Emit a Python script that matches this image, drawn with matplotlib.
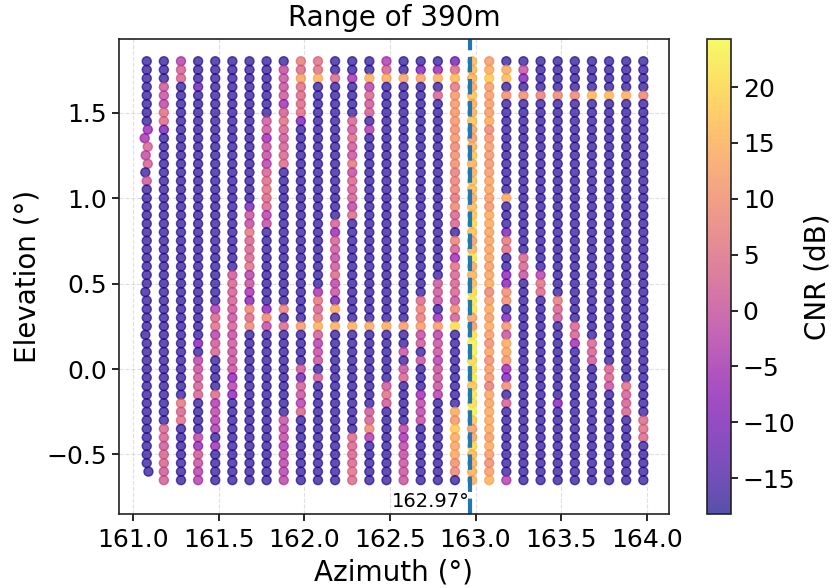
import numpy as np
import matplotlib
matplotlib.use('Agg')
import matplotlib.pyplot as plt

# scan grid: azimuth columns and elevation rows (top row first)
azimuth = [161.08, 161.18, 161.28, 161.38, 161.48, 161.58, 161.68, 161.78, 161.88, 161.98,
           162.08, 162.18, 162.28, 162.38, 162.48, 162.58, 162.68, 162.78, 162.88, 162.98,
           163.08, 163.18, 163.28, 163.38, 163.48, 163.58, 163.68, 163.78, 163.88, 163.98]
elevation = [1.80, 1.75, 1.70, 1.65, 1.60, 1.55, 1.50, 1.45, 1.40, 1.35,
             1.30, 1.25, 1.20, 1.15, 1.10, 1.05, 1.00, 0.95, 0.90, 0.85,
             0.80, 0.75, 0.70, 0.65, 0.60, 0.55, 0.50, 0.45, 0.40, 0.35,
             0.30, 0.25, 0.20, 0.15, 0.10, 0.05, 0.00, -0.05, -0.10, -0.15,
             -0.20, -0.25, -0.30, -0.35, -0.40, -0.45, -0.50, -0.55, -0.60, -0.65]

# most cells sit at the noise floor, only the returns above it are listed
noise_floor = -17
first_col_rows = 49  # first column stops one row early
# the first column wanders a bit in azimuth (row: offset in degrees)
first_col_shift = {8: 0.006, 9: -0.012, 10: 0.006, 11: -0.006, 12: 0.006, 13: -0.008,
                   27: -0.008, 32: -0.008, 48: 0.01}

returns = {
    0: {8: -6, 9: -5, 10: 3, 11: -1, 12: 2, 14: 1},
    1: {3: 1, 4: 0, 5: -2, 6: 5, 7: 4, 8: -11, 43: 3, 44: 3, 45: 1, 46: 3, 47: 3, 48: 1, 49: 2},
    2: {0: -3, 1: 2, 2: 3, 40: 6, 41: 3, 42: 5},
    3: {3: -13, 33: -9, 35: -2, 36: 0, 37: 1, 38: 2, 39: 3, 44: -2, 45: -7, 46: 1, 47: 0, 48: -3, 49: -3},
    4: {29: -4, 30: 3, 31: 5, 32: -3, 33: 1, 34: 3, 39: 4, 40: -4, 41: -2, 42: -3, 43: -4, 45: -6},
    5: {25: 1, 26: 3, 27: 2, 28: 2, 29: 1, 30: 0, 31: 2, 32: -1, 33: 1, 34: 0, 35: 0, 36: 0, 37: -8, 38: -3, 39: -8},
    6: {17: -11, 18: 0, 19: -1, 20: 6, 21: 3, 22: 3, 23: 3, 24: 5, 25: -3, 26: 0, 27: -5, 28: -9, 29: 9, 30: 4, 31: 9},
    7: {7: 1, 8: 1, 9: -6, 10: 0, 11: -1, 12: -3, 13: 2, 14: 4, 15: 5, 16: 4, 17: 3, 18: -3, 19: -1,
        29: -9, 30: 9, 31: -1},
    8: {1: -1, 2: 0, 3: 0, 4: 1, 5: -6, 6: 2, 7: 5, 8: 3, 9: 1, 10: 2, 11: 3, 12: 4, 29: 8, 31: 4,
        42: 0, 43: -2, 44: -1, 45: -4, 46: -2, 47: -2, 48: -3, 49: -2},
    9: {0: 7, 1: 4, 2: 13, 3: 5, 4: 4, 5: 4, 6: 5, 7: -10, 31: 12, 36: 1, 37: -12, 38: 2, 39: 0, 40: -3, 41: 3},
    10: {0: 5, 1: 5, 2: 15, 27: -5, 28: 6, 29: 3, 30: 6, 31: 15, 32: 2, 33: -3, 34: -1, 35: 0, 37: 1},
    11: {2: 4, 19: 2, 20: -7, 21: 2, 22: 1, 23: -1, 24: 1, 25: 4, 26: -2, 27: 0, 28: -11, 29: 14, 31: 15},
    12: {2: -5, 7: 3, 8: 1, 9: 4, 10: 1, 11: 0, 12: 6, 13: -1, 14: 3, 15: 2, 16: 2, 17: -2, 18: 4,
         31: 15, 44: 4, 45: 3, 46: 3, 47: 3, 48: 5, 49: 4},
    13: {2: 15, 3: -3, 4: 3, 5: 1, 6: 2, 8: -4, 31: 14, 41: 1, 42: 2, 43: 9, 44: -4},
    14: {0: -4, 1: 2, 2: 14, 31: 15, 38: 1, 39: 5, 40: 1},
    15: {2: 13, 31: 12, 34: 0, 36: 0, 37: 3, 43: -2, 44: -5, 45: -2, 46: -1, 47: 0, 48: 0, 49: 0},
    16: {1: -10, 2: 13, 28: 4, 29: 8, 30: 7, 31: 12, 32: -1, 33: 1, 35: 0, 39: -6, 40: -2, 41: -2, 42: -1},
    17: {1: -7, 2: 15, 4: 3, 26: 1, 27: 1, 28: 0, 30: -7, 31: 12, 32: -3, 33: 0, 34: 0, 35: -3, 36: 0, 37: 0, 38: 0, 39: -3},
    18: {0: -12, 1: 4, 2: 16, 3: 6, 4: 11, 5: 11, 6: 11, 7: 11, 8: 10, 9: 11, 10: 9, 11: 10, 12: 10, 13: 7,
         14: 8, 15: 8, 16: 6, 17: 9, 18: 3, 19: 3, 21: 8, 22: 2, 23: -6, 24: 5, 25: 3, 26: 3, 27: 3, 28: 0,
         29: 9, 30: 2, 31: 21, 41: 14, 42: 11, 43: 18, 44: 14, 45: 13, 46: 14, 47: 10, 48: 9},
    19: {0: 16, 1: 16, 2: 15, 3: 13, 4: 17, 5: 14, 6: 15, 7: 17, 8: 13, 9: 12, 10: 15, 11: 17, 12: 15, 13: 15,
         14: 17, 15: 16, 16: 14, 17: 16, 18: 17, 19: 20, 20: 17, 21: 12, 22: 15, 23: 22, 24: 14, 25: 15,
         26: 16, 27: 20, 28: 22, 29: 22, 30: 13, 31: 11, 32: 21, 33: 23, 34: 23, 35: 20, 36: 21, 37: 22,
         38: 17, 39: 22, 40: 21, 41: 23, 42: 18, 43: 12, 44: 13, 45: 20, 46: 16, 47: 15, 48: 15, 49: 15},
    20: {0: 12, 1: 14, 2: 18, 3: 12, 4: 12, 5: 12, 6: 12, 7: 14, 8: 9, 9: 11, 10: 12, 11: 11, 12: 11, 13: 12,
         14: 13, 15: 13, 16: 12, 17: 11, 18: 14, 19: 14, 20: 13, 21: 13, 22: 13, 23: 13, 24: 12, 25: 13,
         26: 14, 27: 9, 28: 12, 29: 14, 30: 12, 31: 14, 32: 12, 33: 10, 34: 13, 35: 10, 36: 12, 37: 11,
         38: 7, 39: 13, 40: 13, 41: 14, 42: 14, 43: 14, 44: 12, 45: 14, 46: 12, 47: 10, 48: 12, 49: 15},
    21: {1: 14, 2: 16, 4: 10, 16: 14, 20: -11, 21: 6, 22: 5, 25: -8, 26: -9, 27: 10, 28: 10, 30: -10, 31: 11,
         32: 0, 33: 14, 34: 13, 35: 11, 36: -6, 37: -10, 38: 10, 40: 2, 49: -3},
    22: {1: 0, 2: -9, 4: 10, 23: 3, 24: 3, 25: 0},
    23: {4: 8, 25: -3, 26: 5, 27: 4},
    24: {4: 9, 28: 7, 29: 3, 30: 1, 40: -9},
    25: {4: 9, 31: 3, 32: 2, 33: -6},
    26: {4: 16, 33: 3, 34: 2, 35: 1},
    27: {4: 16, 36: 3, 37: 3, 38: 0},
    28: {4: 15, 38: 5, 39: 2, 40: 2, 41: 3},
    29: {4: 9, 42: 4, 43: 5, 44: 4},
}

x, y, cnr = [], [], []
for col, az in enumerate(azimuth):
    n_rows = first_col_rows if col == 0 else len(elevation)
    for row in range(n_rows):
        shift = first_col_shift.get(row, 0) if col == 0 else 0
        x.append(az + shift)
        y.append(elevation[row])
        cnr.append(returns[col].get(row, noise_floor))

plt.rcParams['axes.linewidth'] = 1.2
plt.rcParams['axes.edgecolor'] = '#222222'
plt.rcParams['xtick.major.size'] = 5
plt.rcParams['ytick.major.size'] = 5
plt.rcParams['xtick.major.width'] = 1.2
plt.rcParams['ytick.major.width'] = 1.2

fig = plt.figure(figsize=(8.33, 5.88), dpi=100)
ax = fig.add_axes([119 / 833, 1 - 514 / 588, 550 / 833, 475 / 588])
cax = fig.add_axes([707 / 833, 1 - 514 / 588, 24 / 833, 475 / 588])

sc = ax.scatter(x, y, c=cnr, cmap='plasma', vmin=-18.2, vmax=24.3, s=42, linewidths=1.0, alpha=0.7)
ax.axvline(162.97, color='tab:blue', linestyle='--', linewidth=3)
ax.text(162.965, -0.805, '162.97°', ha='right', va='baseline', fontsize=14)

ax.set_xlim(160.918, 164.13)
ax.set_ylim(-0.848, 1.93)
ax.set_xticks([161, 161.5, 162, 162.5, 163, 163.5, 164])
ax.set_yticks([-0.5, 0, 0.5, 1, 1.5])
ax.grid(True, linestyle='--', alpha=0.4)
ax.set_axisbelow(True)
ax.tick_params(labelsize=18)
ax.tick_params(axis='x', pad=5)
ax.set_title('Range of 390m', fontsize=20, pad=9)
ax.set_xlabel('Azimuth (°)', fontsize=20, labelpad=5)
ax.set_ylabel('Elevation (°)', fontsize=20, labelpad=4)

cbar = fig.colorbar(sc, cax=cax)
cbar.solids.set_alpha(0.7)
cbar.set_ticks([-15, -10, -5, 0, 5, 10, 15, 20])
cbar.ax.tick_params(labelsize=18)
cbar.set_label('CNR (dB)', fontsize=20, labelpad=6)

fig.savefig('out.png', dpi=100)
